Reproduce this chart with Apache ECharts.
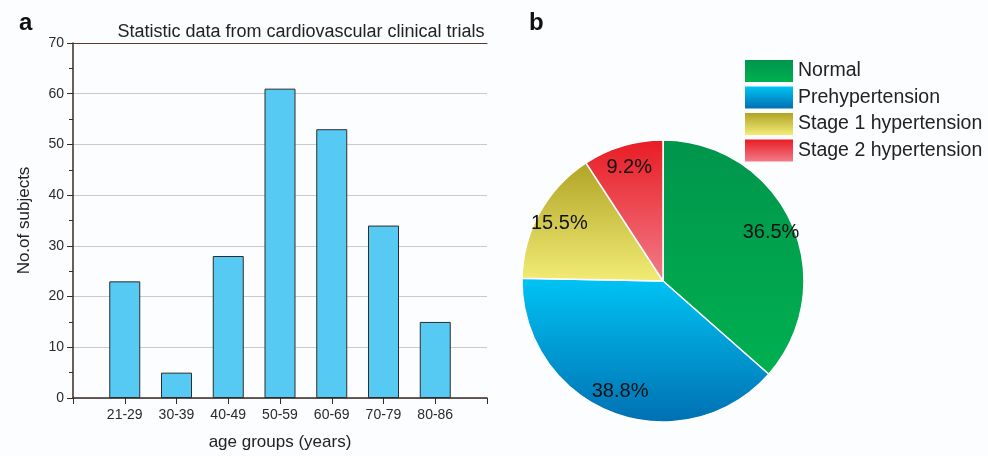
<!DOCTYPE html>
<html>
<head>
<meta charset="utf-8">
<script src="https://cdn.jsdelivr.net/npm/echarts@6/dist/echarts.min.js"></script>
<style>
  html, body { margin: 0; padding: 0; background: #fcfdfe; }
  #c { width: 988px; height: 456px; }
</style>
</head>
<body>
<div id="c"></div>
<script>
const AGES = ["21-29", "30-39", "40-49", "50-59", "60-69", "70-79", "80-86"];
const SUBJECTS = [23, 5, 28, 61, 53, 34, 15];
const GROUPS = ["Normal", "Prehypertension", "Stage 1 hypertension", "Stage 2 hypertension"];
const PERCENT = [36.5, 38.8, 15.5, 9.2];

const FONT = "Liberation Sans, Arial, sans-serif";
const grad = (a, b) => new echarts.graphic.LinearGradient(0, 0, 0, 1, [{ offset: 0, color: a }, { offset: 1, color: b }]);
const FILLS = [grad("#00954c", "#00b050"), grad("#00c4f4", "#0070b2"), grad("#b0a426", "#f2ec76"), grad("#e81c24", "#f27c88")];

const chart = echarts.init(document.getElementById("c"));
const dark = "#3a2a22";

chart.setOption({
  backgroundColor: "#fcfdfe",
  animation: false,
  textStyle: { fontFamily: FONT },
  title: [
    { text: "Statistic data from cardiovascular clinical trials", left: 296, top: 18, textAlign: "center",
      textStyle: { fontSize: 18, fontWeight: "normal", color: "#222", fontFamily: FONT } },
    { text: "a", left: 14, top: 6, textStyle: { fontSize: 24, fontWeight: "bold", color: "#111", fontFamily: FONT } },
    { text: "b", left: 524, top: 6, textStyle: { fontSize: 24, fontWeight: "bold", color: "#111", fontFamily: FONT } },
  ],
  grid: { left: 73, right: 501, top: 43, bottom: 57 },
  xAxis: [{
    type: "value", min: 0, max: 8, interval: 1,
    name: "age groups (years)", nameLocation: "middle", nameGap: 36,
    nameTextStyle: { fontSize: 17, color: "#222" },
    axisLine: { show: true, lineStyle: { color: dark, width: 1.5 } },
    axisTick: { show: true, inside: false, length: 6, lineStyle: { color: dark } },
    axisLabel: { fontSize: 14, color: "#2a2a2a", margin: 10, formatter: v => AGES[v - 1] || "" },
    splitLine: { show: false },
  }, {
    type: "value", min: 0, max: 8, position: "top",
    axisLine: { show: true, lineStyle: { color: "#5a3a2c", width: 1.2 } },
    axisTick: { show: false }, axisLabel: { show: false }, splitLine: { show: false },
  }],
  yAxis: {
    type: "value", min: 0, max: 70, interval: 10,
    name: "No.of subjects", nameLocation: "middle", nameGap: 40,
    nameTextStyle: { fontSize: 17, color: "#222" },
    axisLine: { show: true, lineStyle: { color: dark, width: 1.5 } },
    axisTick: { show: true, length: 6, lineStyle: { color: dark } },
    minorTick: { show: true, splitNumber: 2, length: 4, lineStyle: { color: dark } },
    axisLabel: { fontSize: 14, color: "#2a2a2a", margin: 9 },
    splitLine: { show: true, lineStyle: { color: "#c6cbce", width: 1 } },
  },
  legend: {
    orient: "vertical", left: 745, top: 60, padding: 0, itemWidth: 48, itemHeight: 22, itemGap: 4.5,
    textStyle: { fontSize: 19.5, color: "#222", fontFamily: FONT },
    data: GROUPS.map((g, i) => ({ name: g, icon: "rect", itemStyle: { color: FILLS[i], borderWidth: 0 } })),
    selectedMode: false,
  },
  series: [
    {
      type: "bar", xAxisIndex: 0, barWidth: 31,
      data: SUBJECTS.map((v, i) => [i + 1, v]),
      itemStyle: { color: "#56caf2", borderColor: "#2c2c2c", borderWidth: 1 },
    },
    {
      type: "pie", center: [663, 281], radius: 141, startAngle: 90, clockwise: true,
      label: { show: false }, labelLine: { show: false },
      itemStyle: { borderColor: "#ffffff", borderWidth: 1.5 },
      data: GROUPS.map((g, i) => ({ name: g, value: PERCENT[i], itemStyle: { color: FILLS[i] } })),
    },
    {
      type: "pie", center: [663, 281], radius: [90, 141], startAngle: 90, clockwise: true, silent: true,
      label: { show: true, position: "inside", formatter: "{c}%", fontSize: 20, color: "#111", fontFamily: FONT },
      labelLine: { show: false },
      itemStyle: { color: "rgba(0,0,0,0)", borderWidth: 0 },
      data: GROUPS.map((g, i) => ({ name: g, value: PERCENT[i] })),
    },
  ],
});
</script>
</body>
</html>
